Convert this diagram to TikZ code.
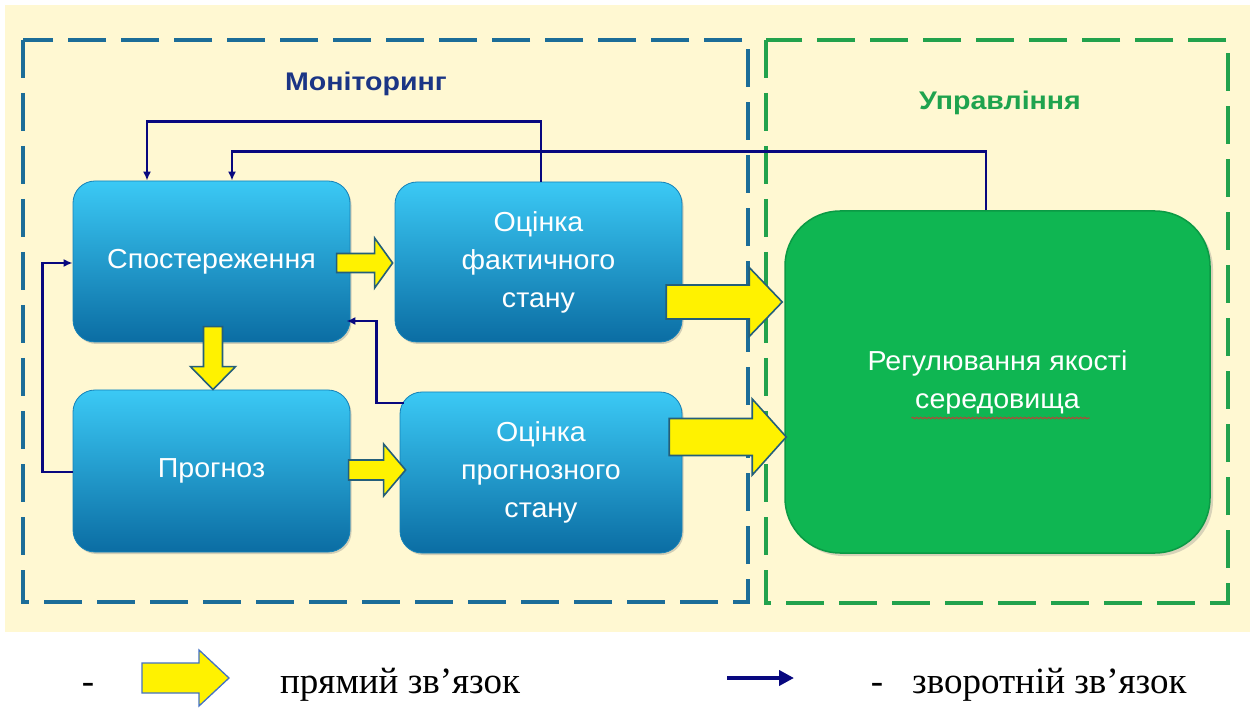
\documentclass[tikz,border=0pt]{standalone}
\usepackage{fontspec}
\setmainfont{Liberation Serif}
\newfontfamily\slidefont[FakeStretch=1.04]{Liberation Sans}
\newfontfamily\headfont[FakeStretch=1.12]{Liberation Sans}
\usetikzlibrary{calc,shadows,arrows.meta,decorations.pathmorphing}

\definecolor{paper}{HTML}{FFF8D2}
\definecolor{monblue}{HTML}{1C6D98}
\definecolor{ctlgreen}{HTML}{22A24C}
\definecolor{montext}{HTML}{1B3585}
\definecolor{ctltext}{HTML}{1FA34E}
\definecolor{boxtop}{HTML}{3BC9F5}
\definecolor{boxmid}{HTML}{1A9FDB}
\definecolor{boxbot}{HTML}{0B6DA3}
\definecolor{boxedge}{HTML}{1582B8}
\definecolor{greenfill}{HTML}{0FB652}
\definecolor{greenedge}{HTML}{0B9A45}
\definecolor{navyline}{HTML}{08087F}
\definecolor{arrowedge}{HTML}{245F7A}
\definecolor{legendedge}{HTML}{4472C4}
\definecolor{squiggle}{HTML}{B04A38}

\tikzset{
  monframe/.style={draw=monblue, line width=4.5pt, dash pattern=on 38pt off 15pt},
  ctlframe/.style={draw=ctlgreen, line width=4.5pt, dash pattern=on 38pt off 15pt},
  slidetext/.style={font=\slidefont\fontsize{27.5}{38}\selectfont, text=white, align=center},
  bluebox/.style={rectangle, rounded corners=22pt, top color=boxtop, middle color=boxmid,
    bottom color=boxbot, draw=boxedge, line width=0.8pt, slidetext,
    drop shadow={shadow xshift=1.5pt, shadow yshift=-2pt, opacity=0.35}},
  greenbox/.style={rectangle, rounded corners=55pt, fill=greenfill, draw=greenedge,
    line width=1.5pt, slidetext,
    drop shadow={shadow xshift=3pt, shadow yshift=-3pt, opacity=0.3}},
  heading/.style={font=\headfont\bfseries\fontsize{25.5}{30}\selectfont},
  fbline/.style={draw=navyline, line width=2.8pt, -{Latex[length=9pt,width=8pt]}},
  fatstyle/.style={fill=yellow, draw=arrowedge, line width=1.6pt, line join=miter},
  legtext/.style={font=\fontsize{37}{44}\selectfont, inner sep=0pt},
  % block arrow pointing to +x with its tip at the origin:
  % #1 total length, #2 half shaft, #3 head length, #4 half head, #5 extra options
  pics/fatarrow/.style n args={5}{code={
    \filldraw[fatstyle,#5] (-#1,-#2) -- (-#3,-#2) -- (-#3,-#4) -- (0,0)
      -- (-#3,#4) -- (-#3,#2) -- (-#1,#2) -- cycle;}},
}

\begin{document}
\begin{tikzpicture}[x=1pt, y=-1pt]
\useasboundingbox (0,0) rectangle (1256,708);
\fill[white] (0,0) rectangle (1256,708);
\fill[paper] (5,5) rectangle (1250,632);

% dashed regions
\draw[monframe] (23,40) rectangle (748,602);
\draw[ctlframe] (766,40) rectangle (1228,603);

% headings
\node[heading, text=montext] (montitle) at (366,84) {Моніторинг};
\node[heading, text=ctltext] (ctltitle) at (1000,103) {Управління};

% blocks
\node[bluebox, minimum width=277pt, minimum height=161pt] (obs) at (211.5,261.5) {Спостереження};
\node[bluebox, minimum width=287pt, minimum height=160pt] (fact) at (538.5,262) {Оцінка\\фактичного\\стану};
\node[bluebox, minimum width=277pt, minimum height=162pt] (prog) at (211.5,471) {Прогноз};
\node[bluebox, minimum width=282pt, minimum height=161pt] (progest) at (541,472.5) {Оцінка\\прогнозного\\стану};
\node[greenbox, minimum width=425pt, minimum height=342pt] (reg) at (997.5,382) {Регулювання якості\\середовища};
\draw[squiggle, line width=1.1pt, decorate, decoration={snake, amplitude=0.7pt, segment length=4pt}]
  ($(reg.center)+(-86,36)$) -- ++(178,0);

% feedback connections
\draw[fbline] ($(fact.north)+(2.5,0)$) -- ++(0,-60) -| ($(obs.north)+(-64.5,0)$);
\draw[fbline] ($(reg.north)+(-11.5,0)$) -- ++(0,-59) -| ($(obs.north)+(20.5,0)$);
\draw[fbline] ($(progest.west)+(4,-69.5)$) -- ++(-27,0) |- ($(obs.east)+(-4,59.5)$);
\draw[fbline] ($(prog.west)+(0,1)$) -- ++(-30,0) |- ($(obs.west)+(0,1.5)$);

% direct connections
\pic at ($(fact.west)+(-2,1)$) {fatarrow={56}{9.5}{18}{25}{}};
\pic[rotate=-90] at ($(prog.north)+(1.5,0)$) {fatarrow={63}{9.5}{23}{22.5}{}};
\pic at ($(progest.west)+(6,-2.5)$) {fatarrow={57}{10}{22}{26}{}};
\pic at ($(reg.west)+(-2,-80)$) {fatarrow={116}{17}{33}{34.5}{}};
\pic at ($(reg.west)+(2,55)$) {fatarrow={117}{18.5}{34}{38}{}};

% legend
\node[legtext, anchor=base] (dashone) at (88,693) {-};
\coordinate (legtip) at (229,678);
\pic at (legtip) {fatarrow={87}{15}{30}{28}{draw=legendedge, line width=1.3pt}};
\node[legtext, anchor=base west] (direct) at (280,693) {прямий зв’язок};
\coordinate (fbstart) at (727,678);
\coordinate (fbend) at (794,678);
\draw[draw=navyline, line width=4.5pt, -{Triangle[length=15pt,width=15pt]}] (fbstart) -- (fbend);
\node[legtext, anchor=base] (dashtwo) at (877,693) {-};
\node[legtext, anchor=base west] (feedback) at (912,693) {зворотній зв’язок};
\end{tikzpicture}
\end{document}
